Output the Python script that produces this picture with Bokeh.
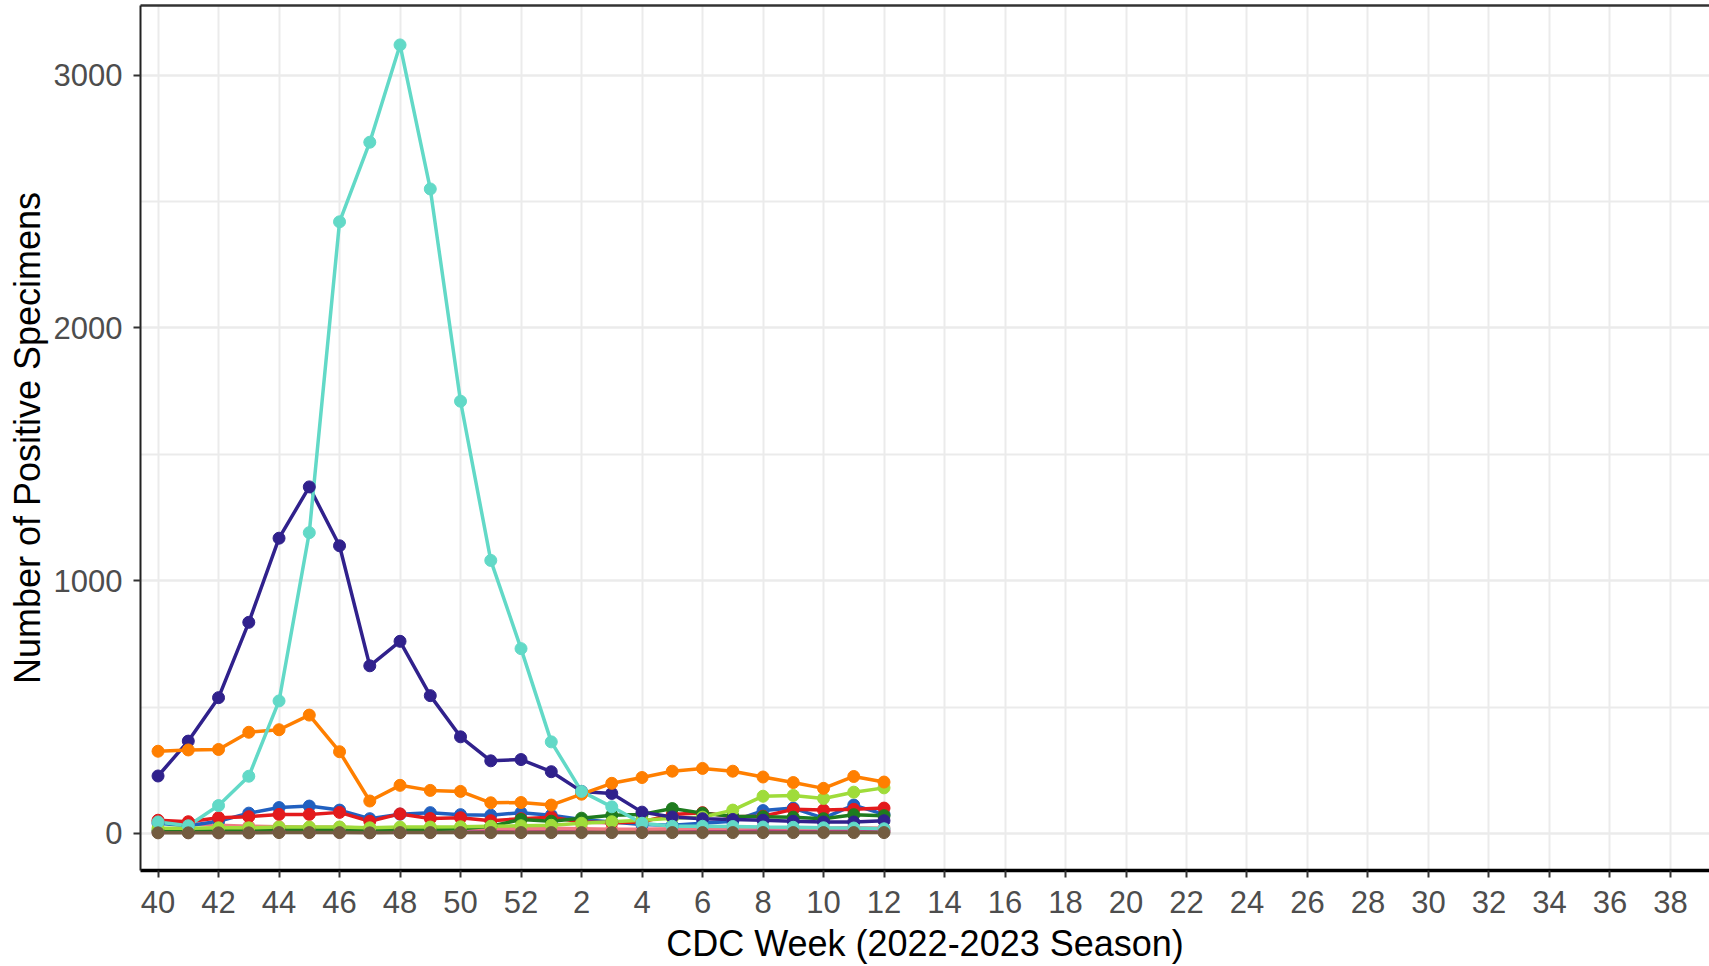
from bokeh.plotting import figure
from bokeh.models import Range1d, FixedTicker, SingleIntervalTicker, LinearAxis
from bokeh.embed import file_html
from bokeh.resources import INLINE

# ---- data -------------------------------------------------------------
season_weeks = list(range(40, 53)) + list(range(1, 40))      # CDC weeks of the 2022-2023 season
observed_weeks = list(range(40, 53)) + list(range(1, 13))    # weeks with reported data
tick_weeks = season_weeks[::2]                               # labelled weeks 40, 42, ... 38

influenza_a = [45, 30, 110, 226, 524, 1190, 2420, 2735, 3120, 2550, 1710, 1080, 731,
               362, 166, 105, 40, 28, 28, 27, 25, 24, 22, 21, 18]
rsv = [227, 365, 537, 835, 1168, 1371, 1138, 663, 760, 545, 382, 287, 292,
       244, 166, 158, 84, 65, 58, 55, 52, 48, 45, 45, 50]
rhino_entero = [325, 330, 332, 400, 410, 468, 323, 128, 190, 170, 166, 121, 122,
                112, 155, 198, 221, 246, 257, 246, 223, 201, 178, 225, 203]
seasonal_cov = [40, 30, 48, 80, 102, 108, 92, 58, 76, 82, 74, 72, 82,
                72, 55, 45, 35, 32, 40, 48, 90, 100, 60, 112, 75]
sars_cov_2 = [52, 46, 62, 66, 75, 75, 83, 48, 77, 59, 62, 50, 58,
              64, 45, 42, 45, 75, 82, 66, 68, 95, 92, 95, 100]
adenovirus = [10, 8, 10, 12, 15, 15, 15, 12, 15, 15, 18, 28, 55,
              48, 60, 72, 75, 98, 80, 68, 66, 64, 58, 74, 70]
hmpv = [20, 20, 22, 22, 25, 25, 25, 22, 25, 25, 26, 28, 30,
        32, 40, 46, 52, 60, 64, 92, 147, 150, 138, 163, 180]
parainfluenza = [48, 38, 32, 28, 26, 24, 24, 20, 20, 20, 20, 20, 18,
                 20, 18, 16, 16, 18, 20, 20, 22, 20, 20, 22, 20]
influenza_b = [5, 4, 4, 5, 8, 5, 5, 4, 5, 5, 5, 6, 6,
               6, 6, 6, 8, 8, 8, 10, 12, 10, 10, 10, 10]
other_virus = [2, 2, 2, 2, 3, 3, 3, 2, 3, 3, 3, 3, 3,
               3, 3, 3, 3, 3, 3, 3, 3, 3, 3, 3, 3]

series = [
    (influenza_b, "#C2378F"),
    (parainfluenza, "#F07C82"),
    (seasonal_cov, "#2160C0"),
    (sars_cov_2, "#E31A1C"),
    (adenovirus, "#1E7B1E"),
    (hmpv, "#9FDC3A"),
    (rsv, "#30218C"),
    (rhino_entero, "#FF7F00"),
    (influenza_a, "#62D9C7"),
    (other_virus, "#735C40"),
]

# ---- figure -----------------------------------------------------------
x_pos = [season_weeks.index(w) for w in observed_weeks]
tick_pos = [season_weeks.index(w) for w in tick_weeks]

FONT = "Liberation Sans"

p = figure(width=1709, height=966, output_backend="svg", toolbar_location=None,
           x_range=Range1d(-0.58, 51.29), y_range=Range1d(-147, 3276),
           min_border_left=140, min_border_right=0, min_border_top=5, min_border_bottom=95)
p.outline_line_color = None
p.background_fill_color = "white"
p.border_fill_color = "white"

# grids
p.xgrid.grid_line_color = "#EBEBEB"
p.xgrid.grid_line_width = 2
p.ygrid.grid_line_color = "#EBEBEB"
p.ygrid.grid_line_width = 2
p.ygrid.minor_grid_line_color = "#EBEBEB"
p.ygrid.minor_grid_line_width = 2

# x axis
p.xaxis.ticker = FixedTicker(ticks=tick_pos)
p.xaxis.major_label_overrides = {pos: str(w) for pos, w in zip(tick_pos, tick_weeks)}
p.xaxis.axis_label = "CDC Week (2022-2023 Season)"
p.xaxis.axis_line_color = "black"
p.xaxis.axis_line_width = 3.5

# y axis
p.yaxis.ticker = SingleIntervalTicker(interval=1000, num_minor_ticks=2)
p.yaxis.axis_label = "Number of Positive Specimens"
p.yaxis.axis_line_color = "#222222"
p.yaxis.axis_line_width = 2

for ax in (p.xaxis, p.yaxis):
    ax.major_tick_line_color = "#333333"
    ax.major_tick_line_width = 2
    ax.major_tick_out = 7
    ax.major_tick_in = 0
    ax.minor_tick_out = 0
    ax.minor_tick_in = 0
    ax.major_label_text_font = FONT
    ax.major_label_text_font_size = "31px"
    ax.major_label_text_color = "#4D4D4D"
    ax.axis_label_text_font = FONT
    ax.axis_label_text_font_size = "36px"
    ax.axis_label_text_font_style = "normal"
    ax.axis_label_text_color = "black"

p.xaxis.major_label_standoff = 13
p.xaxis.axis_label_standoff = 7
p.yaxis.major_label_standoff = 11
p.yaxis.axis_label_standoff = 3

# top panel border
top_axis = LinearAxis(ticker=FixedTicker(ticks=[]), major_label_text_font_size="0px",
                      major_tick_out=0, major_tick_in=0, minor_tick_out=0, minor_tick_in=0,
                      major_label_standoff=0, axis_line_color="#333333", axis_line_width=2.5)
p.add_layout(top_axis, "above")

# lines then points
for vals, col in series:
    p.line(x_pos, vals, line_color=col, line_width=3.5)
for vals, col in series:
    p.scatter(x_pos, vals, size=12, fill_color=col, line_color=col)

open("out.html", "w").write(file_html(p, INLINE))
